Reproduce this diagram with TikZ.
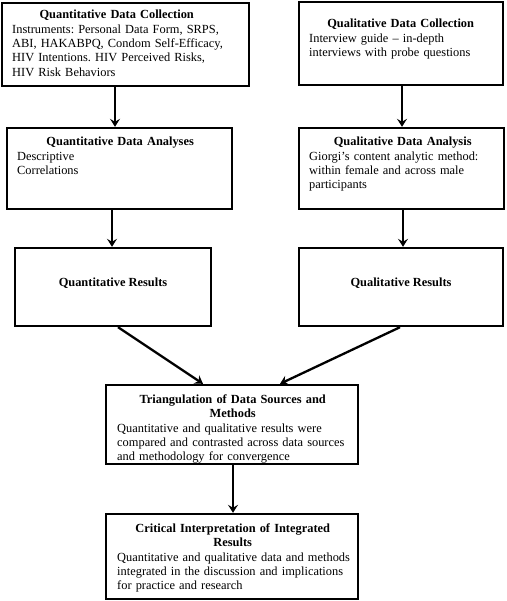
\documentclass[tikz,border=0pt]{standalone}
\usepackage{fontspec}
\setmainfont{Liberation Serif}
\usetikzlibrary{arrows.meta}
\frenchspacing
\tikzset{
  boxnode/.style={draw=black, line width=2.4pt, rectangle, inner sep=0pt},
  txt/.style={inner sep=0pt, anchor=north west, text width=270pt, align=left, font=\fontsize{12.4}{14.3}\selectfont},
  arr/.style={line width=2.3pt, -{Stealth[length=8pt,width=10pt,inset=3pt]}}
}
\newcommand{\fl}{\rule{0pt}{10pt}}
\newcommand{\ttl}[2]{\fl\makebox[#1][c]{\textbf{#2}}}
\begin{document}
\begin{tikzpicture}[x=1pt,y=-1pt]
\useasboundingbox (0,0) rectangle (506,601);
% texts
\node[txt] (t1) at (12,8.7) {\ttl{209pt}{Quantitative Data Collection}\\Instruments: Personal Data Form, SRPS,\\ABI, HAKABPQ, Condom Self-Efficacy,\\HIV Intentions. HIV Perceived Risks,\\HIV Risk Behaviors};
\node[txt] (t2) at (309,17.7) {\ttl{183pt}{Qualitative Data Collection}\\Interview guide -- in-depth\\interviews with probe questions};
\node[txt] (t3) at (17,135.7) {\ttl{206pt}{Quantitative Data Analyses}\\Descriptive\\Correlations};
\node[txt] (t4) at (309,135.7) {\ttl{187pt}{Qualitative Data Analysis}\\Giorgi’s content analytic method:\\within female and across male\\participants};
\node[inner sep=0pt, anchor=base, font=\fontsize{12.4}{14.3}\selectfont] (t5) at (113,286) {\textbf{Quantitative Results}};
\node[inner sep=0pt, anchor=base, font=\fontsize{12.4}{14.3}\selectfont] (t6) at (401,286.5) {\textbf{Qualitative Results}};
\node[txt] (t7) at (117,393.3) {\ttl{231pt}{Triangulation of Data Sources and}\\\makebox[231pt][c]{\textbf{Methods}}\\Quantitative and qualitative results were\\compared and contrasted across data sources\\and methodology for convergence};
\node[txt] (t8) at (117,522.3) {\ttl{231pt}{Critical Interpretation of Integrated}\\\makebox[231pt][c]{\textbf{Results}}\\Quantitative and qualitative data and methods\\integrated in the discussion and implications\\for practice and research};
% boxes
\node[boxnode, minimum width=247pt, minimum height=83pt] (b1) at (125.5,44.5) {};
\node[boxnode, minimum width=204pt, minimum height=83pt] (b2) at (401,43.5) {};
\node[boxnode, minimum width=225pt, minimum height=81pt] (b3) at (119.5,168.5) {};
\node[boxnode, minimum width=205pt, minimum height=81pt] (b4) at (401.5,168.5) {};
\node[boxnode, minimum width=196pt, minimum height=78pt] (b5) at (113,287) {};
\node[boxnode, minimum width=204pt, minimum height=78pt] (b6) at (401,287) {};
\node[boxnode, minimum width=252pt, minimum height=79pt] (b7) at (232,424.5) {};
\node[boxnode, minimum width=252pt, minimum height=85pt] (b8) at (232,556.5) {};
% arrows
\draw[arr] ([xshift=-10.5pt]b1.south) -- ([xshift=-4.5pt]b3.north);
\draw[arr] ([xshift=1pt]b2.south) -- ([xshift=0.5pt]b4.north);
\draw[arr] ([xshift=-7.5pt]b3.south) -- ([xshift=-1pt]b5.north);
\draw[arr] ([xshift=1.5pt]b4.south) -- ([xshift=2pt]b6.north);
\draw[arr] ([xshift=5pt]b5.south) -- ([xshift=-29pt]b7.north);
\draw[arr] ([xshift=-1pt]b6.south) -- ([xshift=48pt]b7.north);
\draw[arr] ([xshift=1pt]b7.south) -- ([xshift=1pt]b8.north);
\end{tikzpicture}
\end{document}
